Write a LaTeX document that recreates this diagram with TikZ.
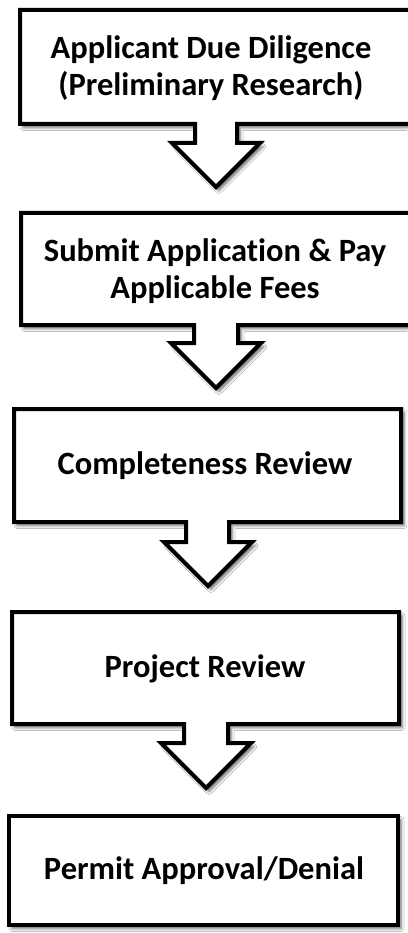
\documentclass[tikz,border=0pt]{standalone}
\usepackage{fontspec}
\setmainfont{Carlito}[Ligatures=NoCommon]
\usetikzlibrary{shadows.blur}
\begin{document}
\begin{tikzpicture}[x=1pt,y=-1pt,
  flowshape/.style={draw=black, line width=4pt, line join=miter, fill=white,
    blur shadow={shadow xshift=3pt, shadow yshift=-3.5pt, shadow blur radius=3pt, shadow opacity=60}},
  steptext/.style={align=center, font=\fontsize{32.5}{36.5}\selectfont\bfseries, inner sep=0pt}]
\useasboundingbox (0,0) rectangle (407,933);
\fill[white] (0,0) rectangle (407,933);
% box 1
\path[flowshape] (20,10) -- (430,10) -- (430,124) -- (237,124) -- (237,143) -- (260,143)
  -- (216,187) -- (172,143) -- (195,143) -- (195,124) -- (20,124) -- cycle;
% box 2
\path[flowshape] (21,213) -- (430,213) -- (430,325) -- (238,325) -- (238,343) -- (261,343)
  -- (216,388) -- (171,343) -- (194,343) -- (194,325) -- (21,325) -- cycle;
% box 3
\path[flowshape] (14,409) -- (401,409) -- (401,522) -- (229,522) -- (229,542) -- (252,542)
  -- (208,586) -- (164,542) -- (186,542) -- (186,522) -- (14,522) -- cycle;
% box 4
\path[flowshape] (12,612) -- (399,612) -- (399,724) -- (228,724) -- (228,743) -- (251,743)
  -- (206,788) -- (161,743) -- (184,743) -- (184,724) -- (12,724) -- cycle;
% box 5
\path[flowshape] (9,816) rectangle (398,925);
\node[steptext] (t1) at (211,68) {Applicant Due Diligence\\(Preliminary Research)};
\node[steptext] (t2) at (215,271) {Submit Application \& Pay\\Applicable Fees};
\node[steptext] (t3) at (205,466) {Completeness Review};
\node[steptext] (t4) at (205,669) {Project Review};
\node[steptext] (t5) at (204,871) {Permit Approval/Denial};
\end{tikzpicture}
\end{document}
